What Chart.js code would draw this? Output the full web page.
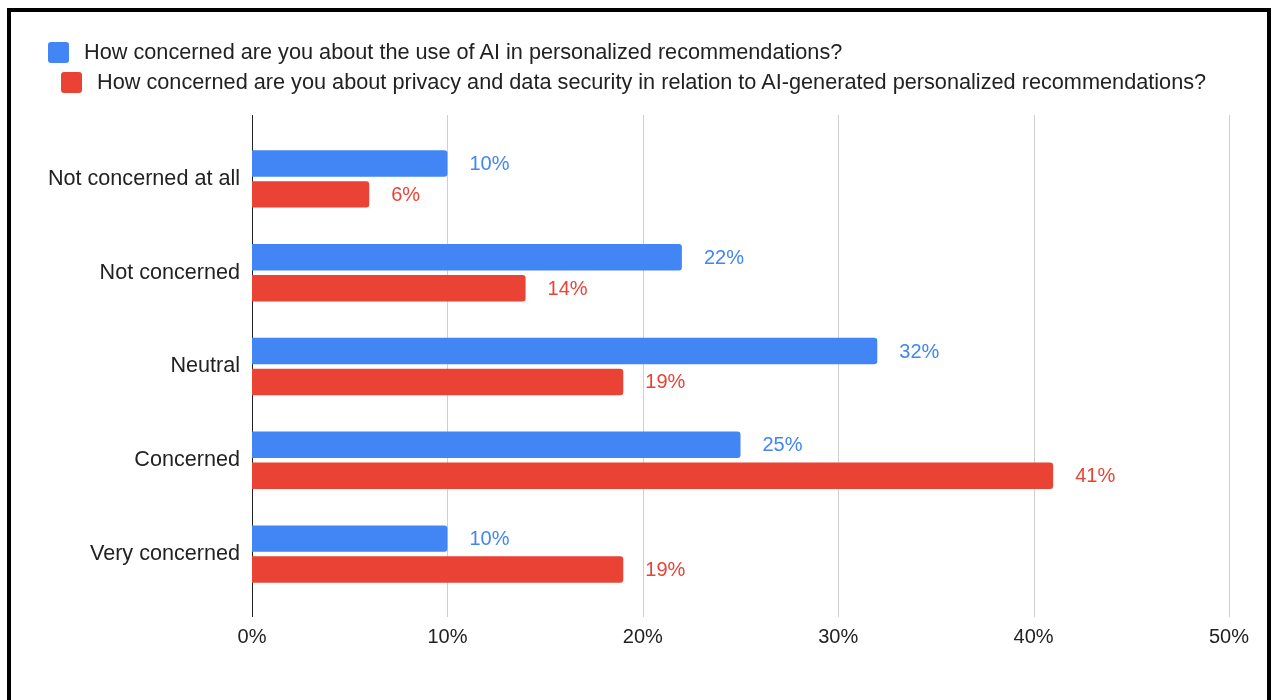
<!DOCTYPE html>
<html lang="en">
<head>
    <meta charset="UTF-8">
    <title>AI Recommendation Concerns</title>
    <script src="https://cdn.jsdelivr.net/npm/chart.js"></script>
    <style>
        body {
            margin: 0;
            background: #fff;
            font-family: "Liberation Sans", Arial, sans-serif;
        }
        #concernChart {
            position: absolute;
            left: 0;
            top: 0;
        }
        #frame {
            position: absolute;
            left: 7px;
            top: 8px;
            width: 1256px;
            height: 760px;
            border: 4px solid #000;
            pointer-events: none;
        }
        #legend {
            position: absolute;
            left: 48px;
            top: 41px;
            color: #222;
            font-size: 21.7px;
        }
        .legend-item {
            display: flex;
            align-items: center;
            height: 22px;
            margin-bottom: 8px;
            white-space: nowrap;
        }
        .legend-item + .legend-item {
            margin-left: 13px;
        }
        .legend-box {
            width: 21px;
            height: 21px;
            border-radius: 3px;
            margin-right: 15px;
        }
    </style>
</head>
<body>
    <canvas id="concernChart" width="1275" height="700"></canvas>
    <div id="legend"></div>
    <div id="frame"></div>

    <script>
        const categories = ["Not concerned at all", "Not concerned", "Neutral", "Concerned", "Very concerned"];
        const seriesNames = [
            "How concerned are you about the use of AI in personalized recommendations?",
            "How concerned are you about privacy and data security in relation to AI-generated personalized recommendations?"
        ];
        const useOfAi = [10, 22, 32, 25, 10];
        const privacy = [6, 14, 19, 41, 19];
        const xTicks = [0, 10, 20, 30, 40, 50];

        const colors = ["#4285F4", "#EA4335"];
        const fontFamily = '"Liberation Sans", Arial, sans-serif';

        // vertical grid lines run a little past the plot area, like the sheets chart
        const gridLines = {
            id: "gridLines",
            beforeDatasetsDraw(chart) {
                const { ctx, chartArea, scales } = chart;
                ctx.save();
                ctx.lineWidth = 1;
                scales.x.ticks.forEach(t => {
                    const x = Math.round(scales.x.getPixelForValue(t.value)) + 0.5;
                    ctx.strokeStyle = t.value === 0 ? "#222" : "#cfcfcf";
                    ctx.beginPath();
                    ctx.moveTo(x, chartArea.top - 17);
                    ctx.lineTo(x, chartArea.bottom + 16);
                    ctx.stroke();
                });
                ctx.restore();
            }
        };

        // value labels to the right of each bar
        const valueLabels = {
            id: "valueLabels",
            afterDatasetsDraw(chart) {
                const { ctx } = chart;
                ctx.save();
                ctx.font = "20px " + fontFamily;
                ctx.textAlign = "left";
                ctx.textBaseline = "middle";
                chart.data.datasets.forEach((ds, i) => {
                    const meta = chart.getDatasetMeta(i);
                    meta.data.forEach((bar, j) => {
                        ctx.fillStyle = ds.backgroundColor;
                        ctx.fillText(ds.data[j] + "%", bar.x + 22, bar.y + 1);
                    });
                });
                ctx.restore();
            }
        };

        const ctx = document.getElementById("concernChart").getContext("2d");
        const chart = new Chart(ctx, {
            type: "bar",
            data: {
                labels: categories,
                datasets: [
                    { label: seriesNames[0], data: useOfAi, backgroundColor: colors[0] },
                    { label: seriesNames[1], data: privacy, backgroundColor: colors[1] }
                ]
            },
            options: {
                indexAxis: "y",
                responsive: false,
                animation: false,
                categoryPercentage: 0.66,
                barPercentage: 0.855,
                borderRadius: 3,
                layout: {
                    padding: { top: 132, right: 46, bottom: 0, left: 0 }
                },
                plugins: {
                    legend: { display: false },
                    tooltip: { enabled: false }
                },
                scales: {
                    x: {
                        min: xTicks[0],
                        max: xTicks[xTicks.length - 1],
                        afterBuildTicks: scale => {
                            scale.ticks = xTicks.map(v => ({ value: v }));
                        },
                        afterFit: scale => { scale.height = 99; },
                        grid: { display: false, drawTicks: false },
                        border: { display: false },
                        ticks: {
                            padding: 24,
                            color: "#222",
                            font: { family: fontFamily, size: 20 },
                            callback: v => v + "%"
                        }
                    },
                    y: {
                        afterFit: scale => { scale.width = 252; },
                        grid: { display: false, drawTicks: false },
                        border: { display: false },
                        ticks: {
                            padding: 12,
                            color: "#222",
                            font: { family: fontFamily, size: 21.6 }
                        }
                    }
                }
            },
            plugins: [gridLines, valueLabels]
        });

        // html legend, one series per line
        const legend = document.getElementById("legend");
        chart.data.datasets.forEach(ds => {
            const item = document.createElement("div");
            item.className = "legend-item";
            const box = document.createElement("span");
            box.className = "legend-box";
            box.style.background = ds.backgroundColor;
            const text = document.createElement("span");
            text.textContent = ds.label;
            item.appendChild(box);
            item.appendChild(text);
            legend.appendChild(item);
        });
    </script>
</body>
</html>
